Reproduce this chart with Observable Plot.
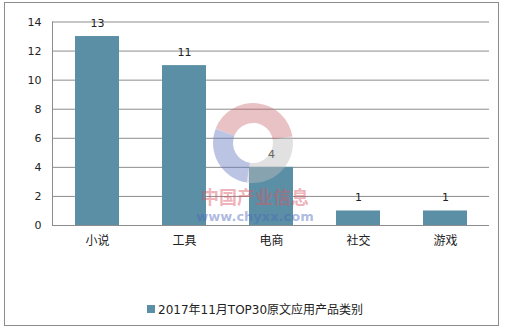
<!DOCTYPE html>
<html>
<head>
<meta charset="utf-8">
<script src="https://cdn.jsdelivr.net/npm/d3@7"></script>
<script src="https://cdn.jsdelivr.net/npm/@observablehq/plot@0.6"></script>
<style>
  html, body { margin: 0; padding: 0; background: #fff; }
  #wrap { position: relative; width: 506px; height: 331px; overflow: hidden;
    font-family: "DejaVu Sans", "Noto Sans CJK SC", sans-serif; }
  #frame { position: absolute; left: 4px; top: 2px; width: 495px; height: 324px; border: 1px solid #8c8c8c; box-sizing: border-box; }
  #chart { position: absolute; left: 0; top: 0; }
  #legend { position: absolute; left: 147px; top: 300px; font-size: 12px; color: #222; display: flex; align-items: center;
    font-family: "DejaVu Sans", "Noto Sans CJK SC", sans-serif; }
  #legend .sw { width: 8px; height: 8px; background: #5b8fa6; margin-right: 3px; }
  #wm { position: absolute; left: 0; top: 0; pointer-events: none; }
</style>
</head>
<body>
<div id="wrap">
  <div id="frame"></div>
  <div id="chart"></div>
  <div id="legend"><div class="sw"></div><span id="legtext"></span></div>
</div>
<script>
const categories = ["小说", "工具", "电商", "社交", "游戏"];
const values = [13, 11, 4, 1, 1];
const yTicks = [0, 2, 4, 6, 8, 10, 12, 14];
const seriesName = "2017年11月TOP30原文应用产品类别";

const data = categories.map((c, i) => ({category: c, value: values[i]}));
const barColor = "#5b8fa6";
const gridColor = "#8c8c8c";

const chart = Plot.plot({
  width: 506,
  height: 262,
  marginLeft: 52,
  marginRight: 17,
  marginTop: 21.5,
  marginBottom: 37,
  style: {fontFamily: "DejaVu Sans, Noto Sans CJK SC, sans-serif", fontSize: "11px", color: "#222", background: "transparent"},
  x: {domain: categories, paddingInner: 0.5, paddingOuter: 0.25, label: null, tickSize: 0, tickPadding: 11},
  y: {domain: [0, 14], ticks: yTicks, label: null, tickSize: 0, tickPadding: 11},
  marks: [
    Plot.gridY(yTicks.filter(t => t > 0), {stroke: gridColor, strokeOpacity: 1, strokeWidth: 1}),
    Plot.barY(data, {x: "category", y: "value", fill: barColor}),
    Plot.ruleY([0], {stroke: gridColor, strokeWidth: 1}),
    Plot.frame({anchor: "left", stroke: gridColor}),
    Plot.text(data, {x: "category", y: "value", text: d => String(d.value), dy: -13, fill: "#222", fontSize: 11})
  ]
});
document.getElementById("chart").appendChild(chart);
document.getElementById("legtext").textContent = seriesName;

const svg = d3.select(chart);
svg.select('g[aria-label="x-axis tick label"]').attr("font-size", 12);

// watermark (decorative)
const wm = d3.select("#wrap").append("svg").attr("id", "wm").attr("width", 506).attr("height", 331);
const cx = 253, cy = 143, r0 = 20, r1 = 40;
const arc = d3.arc().innerRadius(r0).outerRadius(r1);
[
  {s: -1.2, e: 1.4, c: "#c9666e", o: 0.4},
  {s: 1.4, e: 3.3, c: "#bcbcbc", o: 0.45},
  {s: 3.3, e: 5.08, c: "#6b7cc0", o: 0.45}
].forEach(a => {
  wm.append("path").attr("d", arc({startAngle: a.s, endAngle: a.e}))
    .attr("transform", `translate(${cx},${cy})`).attr("fill", a.c).attr("fill-opacity", a.o);
});
wm.append("text").attr("x", 255).attr("y", 204).attr("text-anchor", "middle")
  .attr("font-size", 18).attr("font-weight", "bold").attr("fill", "#d9545f").attr("fill-opacity", 0.45)
  .attr("font-family", "Noto Sans CJK SC").text("中国产业信息");
wm.append("text").attr("x", 255).attr("y", 221).attr("text-anchor", "middle")
  .attr("font-size", 13).attr("font-weight", "bold").attr("fill", "#4a66b8").attr("fill-opacity", 0.45)
  .attr("font-family", "DejaVu Sans").text("www.chyxx.com");
</script>
</body>
</html>
